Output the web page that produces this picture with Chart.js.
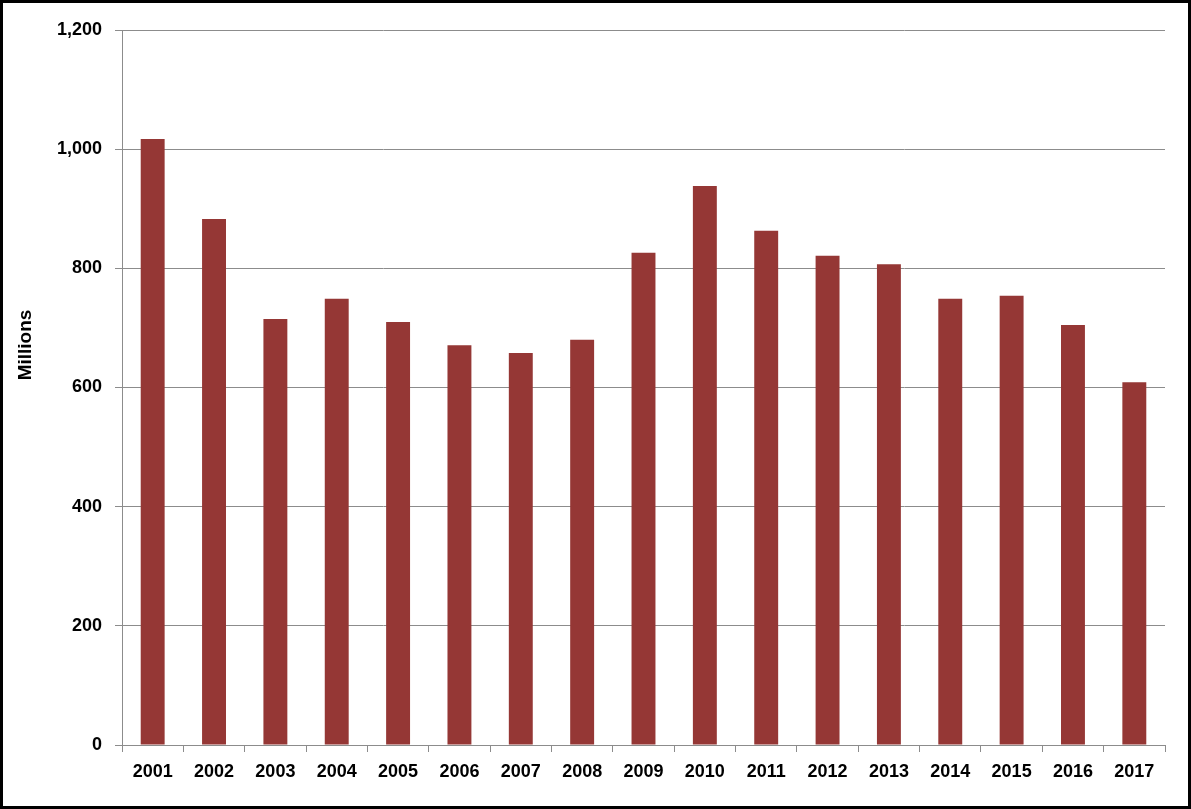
<!DOCTYPE html>
<html>
<head>
<meta charset="utf-8">
<script src="https://cdn.jsdelivr.net/npm/chart.js@4"></script>
<style>
  html, body { margin: 0; padding: 0; background: #fff; }
  #wrap { width: 1191px; height: 809px; position: relative; }
</style>
</head>
<body>
<div id="wrap"><canvas id="chart" width="1191" height="809"></canvas></div>
<script>
const years = ['2001','2002','2003','2004','2005','2006','2007','2008','2009',
  '2010','2011','2012','2013','2014','2015','2016','2017'];
const millions = [1017, 883, 715, 749, 710, 671, 658, 680, 826,
  938, 863, 821, 807, 749, 754, 705, 609];
const yTicks = [0, 200, 400, 600, 800, 1000, 1200];
const yTitle = 'Millions';

const FONT = '"Liberation Sans", Arial, sans-serif';

// frame round the whole picture + rotated axis title
const frame = {
  id: 'frame',
  afterDraw(chart) {
    const ctx = chart.ctx;
    ctx.save();
    ctx.fillStyle = '#000';
    ctx.font = 'bold 19px ' + FONT;
    ctx.translate(26, 345);
    ctx.rotate(-Math.PI / 2);
    ctx.textAlign = 'center';
    ctx.textBaseline = 'middle';
    ctx.fillText(yTitle, 0, 0);
    ctx.restore();
    ctx.save();
    ctx.strokeStyle = '#000';
    ctx.lineWidth = 3;
    ctx.strokeRect(1.5, 1.5, chart.width - 3, chart.height - 3);
    ctx.restore();
  }
};

new Chart(document.getElementById('chart'), {
  type: 'bar',
  data: {
    labels: years,
    datasets: [{
      data: millions,
      backgroundColor: '#953735',
      barPercentage: 0.39,
      categoryPercentage: 1
    }]
  },
  options: {
    responsive: false,
    animation: false,
    layout: { padding: { left: 0, top: 30, right: 26, bottom: 0 } },
    plugins: { legend: { display: false }, tooltip: { enabled: false } },
    scales: {
      x: {
        afterFit(scale) { scale.height = 64; },
        grid: {
          offset: true,
          drawOnChartArea: false,
          color: '#8c8c8c',
          tickLength: 7
        },
        border: { color: '#8c8c8c' },
        ticks: {
          color: '#000',
          font: { family: FONT, size: 18, weight: 'bold' },
          padding: 9,
          maxRotation: 0
        }
      },
      y: {
        min: 0,
        max: 1200,
        afterFit(scale) { scale.width = 122; },
        afterBuildTicks(scale) { scale.ticks = yTicks.map(v => ({ value: v })); },
        grid: { color: '#8c8c8c', tickLength: 7 },
        border: { color: '#8c8c8c' },
        ticks: {
          color: '#000',
          font: { family: FONT, size: 18, weight: 'bold' },
          padding: 13,
          callback: v => v.toLocaleString('en-US')
        }
      }
    }
  },
  plugins: [frame]
});
</script>
</body>
</html>
